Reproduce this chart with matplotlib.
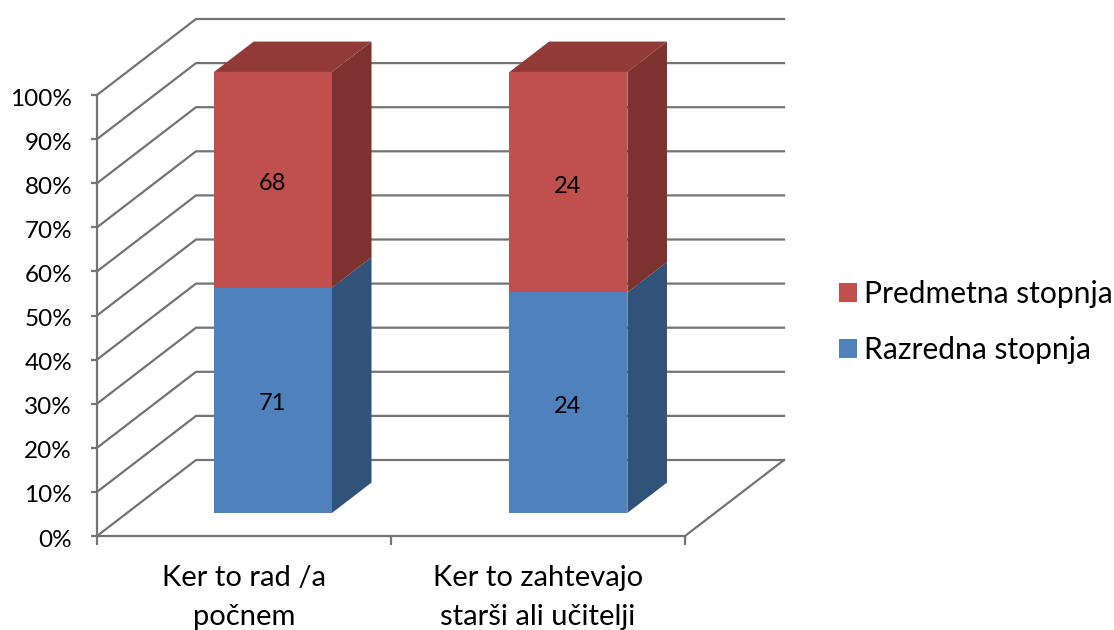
import matplotlib
matplotlib.use("Agg")
import matplotlib.pyplot as plt
from matplotlib.patches import Patch, Polygon
from matplotlib.transforms import ScaledTranslation

plt.rcParams['font.family'] = ['Lato', 'DejaVu Sans']

categories = ["Ker to rad /a\npočnem", "Ker to zahtevajo\nstarši ali učitelji"]
razredna = [71, 24]
predmetna = [68, 24]
ticks = list(range(0, 101, 10))
tick_labels = [f"{t}%" for t in ticks]

W, H = 1114, 630
GRID = "#747474"
BLUE = ("#4f81bd", "#325379")     # front, side
RED = ("#c0504d", "#7d3230", "#923a38")  # front, side, top

fig = plt.figure(figsize=(W / 100, H / 100), dpi=100)
ax = fig.add_axes([97 / W, (H - 536) / H, 588 / W, 441 / H])
ax.set_xlim(0, 2)
ax.set_ylim(0, 100)

# oblique projection: depth 0 = front of floor, 1 = back wall
DX = 99 / 294
DY = 76 / 4.41
D0, D1 = 0.303, 0.703


def proj(x, y, d):
    return (x + d * DX, y + d * DY)


def box(x0, x1, y0, y1, d0, d1, cols):
    side = [proj(x1, y0, d0), proj(x1, y1, d0), proj(x1, y1, d1), proj(x1, y0, d1)]
    front = [proj(x0, y0, d0), proj(x1, y0, d0), proj(x1, y1, d0), proj(x0, y1, d0)]
    ax.add_patch(Polygon(side, fc=cols[1], ec="none", zorder=3, clip_on=False))
    ax.add_patch(Polygon(front, fc=cols[0], ec="none", zorder=4, clip_on=False))
    if len(cols) > 2:
        top = [proj(x0, y1, d0), proj(x1, y1, d0), proj(x1, y1, d1), proj(x0, y1, d1)]
        ax.add_patch(Polygon(top, fc=cols[2], ec="none", zorder=3, clip_on=False))


# wall and floor lines
for t in ticks:
    a, b = proj(0, t, 0), proj(0, t, 1)
    c = proj(2, t, 1)
    ax.plot([a[0], b[0], c[0]], [a[1], b[1], c[1]], color=GRID, lw=1.6, zorder=1, clip_on=False)
a, b = proj(2, 0, 0), proj(2, 0, 1)
ax.plot([a[0], b[0]], [a[1], b[1]], color=GRID, lw=1.6, zorder=1, clip_on=False)

# stacked bars
for i in range(len(categories)):
    total = razredna[i] + predmetna[i]
    split = 100 * razredna[i] / total
    x0, x1 = i + 0.296 + 0.005 * i, i + 0.697 + 0.005 * i
    box(x0, x1, 0, split, D0, D1, BLUE)
    box(x0, x1, split, 100, D0, D1, RED)
    xm, ym = proj((x0 + x1) / 2, split / 2, D0)
    ax.text(xm - 0.003, ym - 0.8, str(razredna[i]), ha="center", va="center", fontsize=17, color="black", zorder=5)
    xm, ym = proj((x0 + x1) / 2, (split + 100) / 2, D0)
    ax.text(xm - 0.003, ym - 0.9, str(predmetna[i]), ha="center", va="center", fontsize=17, color="black", zorder=5)

# axes
for s in ["top", "right"]:
    ax.spines[s].set_visible(False)
for s in ["left", "bottom"]:
    ax.spines[s].set_color(GRID)
    ax.spines[s].set_linewidth(1.6)
ax.patch.set_alpha(0)
ax.set_yticks(ticks)
ax.set_yticklabels(tick_labels, fontsize=17.5)
ax.set_xticks([0, 1, 2])
ax.set_xticklabels([])
ax.set_xticks([0.5, 1.5], minor=True)
ax.set_xticklabels(categories, minor=True, fontsize=21, linespacing=1.6)
ax.tick_params(axis="y", length=4.5, width=1.6, color=GRID, pad=13.5)
ax.tick_params(axis="x", which="major", length=6.5, width=1.6, color=GRID)
ax.tick_params(axis="x", which="minor", length=0, pad=21)
for lab in ax.get_yticklabels():
    lab.set_transform(lab.get_transform() + ScaledTranslation(0, -1.5 / 72, fig.dpi_scale_trans))

handles = [Patch(fc=RED[0], label="Predmetna stopnja"), Patch(fc=BLUE[0], label="Razredna stopnja")]
fig.legend(handles=handles, loc="upper left", bbox_to_anchor=(830 / W, 1 - 271 / H), frameon=False,
           fontsize=21.6, handlelength=0.6, handleheight=0.6, handletextpad=0.22,
           labelspacing=0.94, borderaxespad=0, borderpad=0.3)

fig.savefig("out.png", dpi=100)
